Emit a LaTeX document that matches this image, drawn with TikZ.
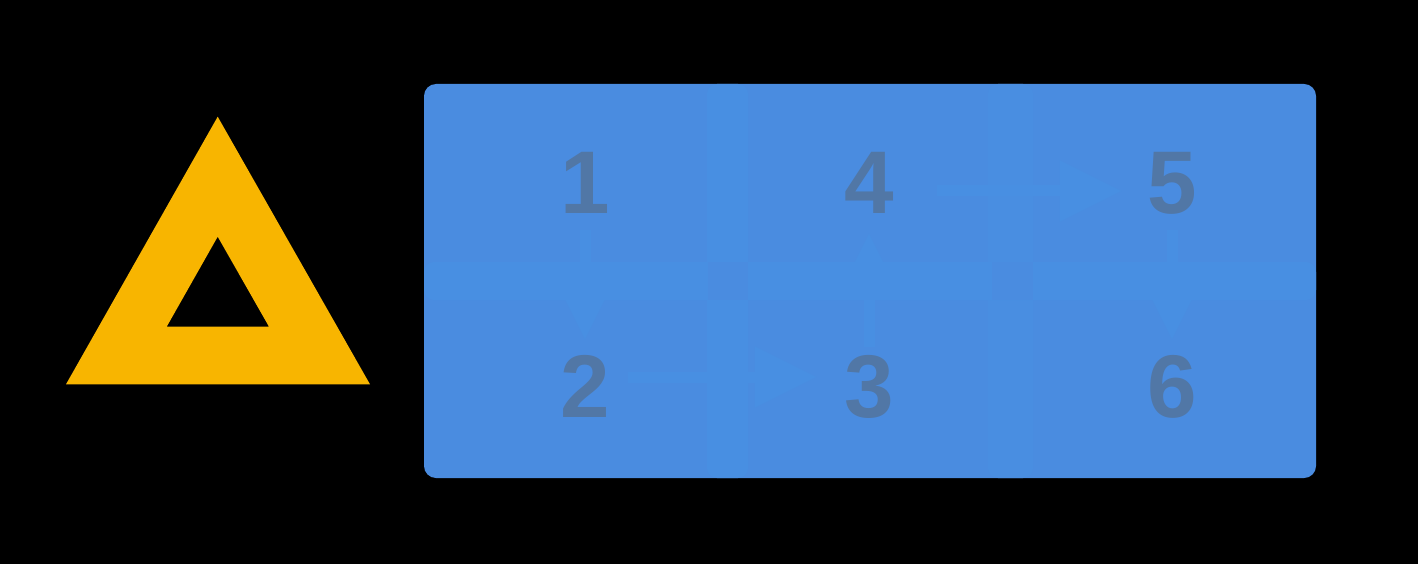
\documentclass[tikz,border=0pt]{standalone}
\usepackage{fontspec}
\setmainfont{Liberation Sans}
\usetikzlibrary{arrows.meta}
\definecolor{boxblue}{HTML}{4A8CE0}
\definecolor{bandblue}{HTML}{488FE2}
\definecolor{faintband}{HTML}{498EE1}
\definecolor{numcol}{HTML}{5177A6}
\definecolor{tri}{HTML}{F8B500}
\tikzset{
  num/.style={text=numcol, font=\fontsize{89}{89}\selectfont\bfseries,
    text height=64pt, text depth=0pt, inner sep=0pt, minimum width=50pt},
  conn/.style={draw=bandblue, line width=11pt,
    -{Triangle[length=62pt,width=58pt]}},
}
\begin{document}
\begin{tikzpicture}[x=1pt,y=-1pt]
\fill[black] (0,0) rectangle (1418,564);
\useasboundingbox (0,0) rectangle (1418,564);
% triangle
\fill[tri, even odd rule] (217.7,116.7) -- (66,384.3) -- (370,384.3) -- cycle
  (217.7,236.7) -- (166.7,326.7) -- (269,326.7) -- cycle;
% box
\fill[boxblue, rounded corners=12pt] (424,84) rectangle (1316,478);
% bands
\fill[faintband, rounded corners=10pt] (988,84) rectangle (1033,478);
\fill[bandblue, rounded corners=10pt] (707,84) rectangle (748,478);
\fill[bandblue, rounded corners=10pt] (424,262) rectangle (1316,300);
\fill[boxblue] (708,262) rectangle (748,300);
\fill[boxblue] (992,262) rectangle (1033,300);
% numbers
\node[num] (n1) at (585,182) {1};
\node[num] (n2) at (585,385) {2};
\node[num] (n3) at (869,385) {3};
\node[num] (n4) at (869,182) {4};
\node[num] (n5) at (1172,182) {5};
\node[num] (n6) at (1172,385) {6};
% connectors
\draw[conn, shorten <=16pt, shorten >=13pt] (n1) -- (n2);
\draw[conn, shorten <=18pt, shorten >=27pt] ([yshift=8pt]n2.east) -- ([yshift=8pt]n3.west);
\draw[conn, shorten <=6pt, shorten >=19pt] (n3) -- (n4);
\draw[conn, shorten <=43pt, shorten >=25pt] ([yshift=-9pt]n4.east) -- ([yshift=-9pt]n5.west);
\draw[conn, shorten <=16pt, shorten >=13pt] (n5) -- (n6);
\end{tikzpicture}
\end{document}
